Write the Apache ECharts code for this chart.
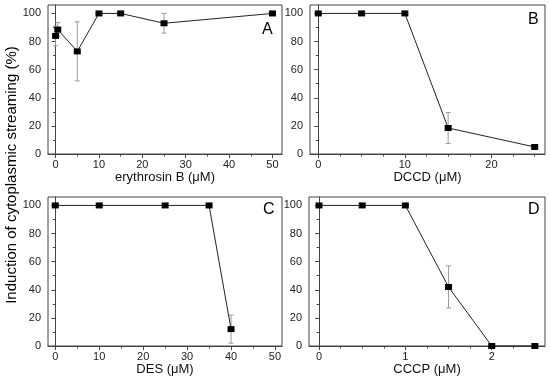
<!DOCTYPE html>
<html><head><meta charset="utf-8">
<script src="https://cdn.jsdelivr.net/npm/echarts@6/dist/echarts.min.js"></script>
<style>html,body{margin:0;padding:0;background:#fff}#c{width:550px;height:378px}</style>
</head><body><div id="c"></div>
<script>
// ---- data ----
const xA = [0, 0.5, 5, 10, 15, 25, 50];
const yA = [84, 88.5, 73, 100, 100, 93, 100];
const eA = [7, 5, 21, 0, 0, 7, 0];
const xB = [0, 5, 10, 15, 25];
const yB = [100, 100, 100, 18.5, 5];
const eB = [0, 0, 0, 11, 0];
const xC = [0, 10, 25, 35, 40];
const yC = [100, 100, 100, 100, 12];
const eC = [0, 0, 0, 0, 10];
const xD = [0, 0.5, 1, 1.5, 2, 2.5];
const yD = [100, 100, 100, 42, 0, 0];
const eD = [0, 0, 0, 15, 0, 0];
const ticksA = [0, 10, 20, 30, 40, 50];
const minorA = [5, 15, 25, 35, 45];
const ticksB = [0, 10, 20];
const minorB = [2.5, 5, 7.5, 12.5, 15, 17.5, 22.5, 25];
const ticksC = [0, 10, 20, 30, 40, 50];
const minorC = [5, 15, 25, 35, 45];
const ticksD = [0, 1, 2];
const minorD = [0.25, 0.5, 0.75, 1.25, 1.5, 1.75, 2.25, 2.5];
const yTicks = [0, 20, 40, 60, 80, 100];
const yMinor = [10, 30, 50, 70, 90];
const xNames = ['erythrosin B (\u03bcM)', 'DCCD (\u03bcM)', 'DES (\u03bcM)', 'CCCP (\u03bcM)'];
const letters = ['A', 'B', 'C', 'D'];
const yName = 'Induction of cytoplasmic streaming (%)';

// ---- layout ----
const FONT = '"Liberation Sans", Arial, sans-serif';
const AX = '#444';
const panels = [
  {x: xA, y: yA, e: eA, t: ticksA, m: minorA, min: -1.75, max: 52.2,
   grid: {left: 48, top: 5, width: 234, height: 149}, letter: {left: 262, top: 22}},
  {x: xB, y: yB, e: eB, t: ticksB, m: minorB, min: -0.96, max: 26.19,
   grid: {left: 310, top: 5, width: 235, height: 149}, letter: {left: 528, top: 12}},
  {x: xC, y: yC, e: eC, t: ticksC, m: minorC, min: -1.66, max: 51.6,
   grid: {left: 48, top: 197, width: 234, height: 149}, letter: {left: 263, top: 202}},
  {x: xD, y: yD, e: eD, t: ticksD, m: minorD, min: -0.116, max: 2.617,
   grid: {left: 309, top: 197, width: 236, height: 149}, letter: {left: 528, top: 202}}
];

function errRender(params, api) {
  const x = api.value(0), lo = api.value(1), hi = api.value(2);
  const p1 = api.coord([x, hi]), p2 = api.coord([x, lo]);
  const w = 2.5, st = {stroke: '#9a9a9a', lineWidth: 1};
  return {type: 'group', children: [
    {type: 'line', shape: {x1: p1[0], y1: p1[1], x2: p2[0], y2: p2[1]}, style: st},
    {type: 'line', shape: {x1: p1[0] - w, y1: p1[1], x2: p1[0] + w, y2: p1[1]}, style: st},
    {type: 'line', shape: {x1: p2[0] - w, y1: p2[1], x2: p2[0] + w, y2: p2[1]}, style: st}
  ]};
}

const grids = [], xAxes = [], yAxes = [], series = [], titles = [];
panels.forEach((p, i) => {
  grids.push(Object.assign({show: true, borderColor: AX, borderWidth: 1, backgroundColor: 'transparent'}, p.grid));
  // major x axis
  xAxes.push({
    type: 'value', gridIndex: i, position: 'bottom', min: p.min, max: p.max,
    name: xNames[i], nameLocation: 'middle', nameGap: 17,
    nameTextStyle: {fontFamily: FONT, fontSize: 13, color: '#111'},
    axisLine: {show: true, lineStyle: {color: AX, width: 1}},
    axisTick: {show: true, length: 4, customValues: p.t, lineStyle: {color: AX}},
    axisLabel: {customValues: p.t, margin: 5, fontFamily: FONT, fontSize: 11, color: '#222'},
    splitLine: {show: false}
  });
  // minor x ticks
  xAxes.push({
    type: 'value', gridIndex: i, position: 'bottom', min: p.min, max: p.max,
    axisLine: {show: false},
    axisTick: {show: true, length: 2.5, customValues: p.m, lineStyle: {color: AX}},
    axisLabel: {show: false}, splitLine: {show: false}
  });
  yAxes.push({
    type: 'value', gridIndex: i, position: 'left', min: 0, max: 106,
    axisLine: {show: true, lineStyle: {color: AX, width: 1}},
    axisTick: {show: true, length: 4, customValues: yTicks, lineStyle: {color: AX}},
    axisLabel: {customValues: yTicks, margin: 7, fontFamily: FONT, fontSize: 11, color: '#222'},
    splitLine: {show: false}
  });
  yAxes.push({
    type: 'value', gridIndex: i, position: 'left', min: 0, max: 106,
    axisLine: {show: false},
    axisTick: {show: true, length: 2.5, customValues: yMinor, lineStyle: {color: AX}},
    axisLabel: {show: false}, splitLine: {show: false}
  });
  const errData = [];
  p.x.forEach((xv, k) => { if (p.e[k] > 0) errData.push([xv, p.y[k] - p.e[k], p.y[k] + p.e[k]]); });
  series.push({
    type: 'custom', xAxisIndex: 2 * i, yAxisIndex: 2 * i, renderItem: errRender,
    data: errData, encode: {x: 0, y: [1, 2]}, z: 2, silent: true, clip: false
  });
  series.push({
    type: 'line', xAxisIndex: 2 * i, yAxisIndex: 2 * i,
    data: p.x.map((xv, k) => [xv, p.y[k]]),
    symbol: 'rect', symbolSize: [7, 6], showSymbol: true,
    itemStyle: {color: '#000'}, lineStyle: {color: '#222', width: 1},
    z: 3, silent: true, animation: false, clip: false
  });
  titles.push({text: letters[i], left: p.letter.left, top: p.letter.top, padding: 0,
    textStyle: {fontFamily: FONT, fontSize: 16, fontWeight: 'normal', color: '#000'}});
});

const chart = echarts.init(document.getElementById('c'), null, {renderer: 'canvas'});
chart.setOption({
  animation: false,
  backgroundColor: '#fff',
  title: titles,
  grid: grids, xAxis: xAxes, yAxis: yAxes, series: series,
  graphic: [{
    type: 'text', x: 12, y: 175, rotation: Math.PI / 2,
    style: {text: yName, font: '15px ' + FONT, fill: '#000', textAlign: 'center', textVerticalAlign: 'middle'}
  }]
});
</script></body></html>
